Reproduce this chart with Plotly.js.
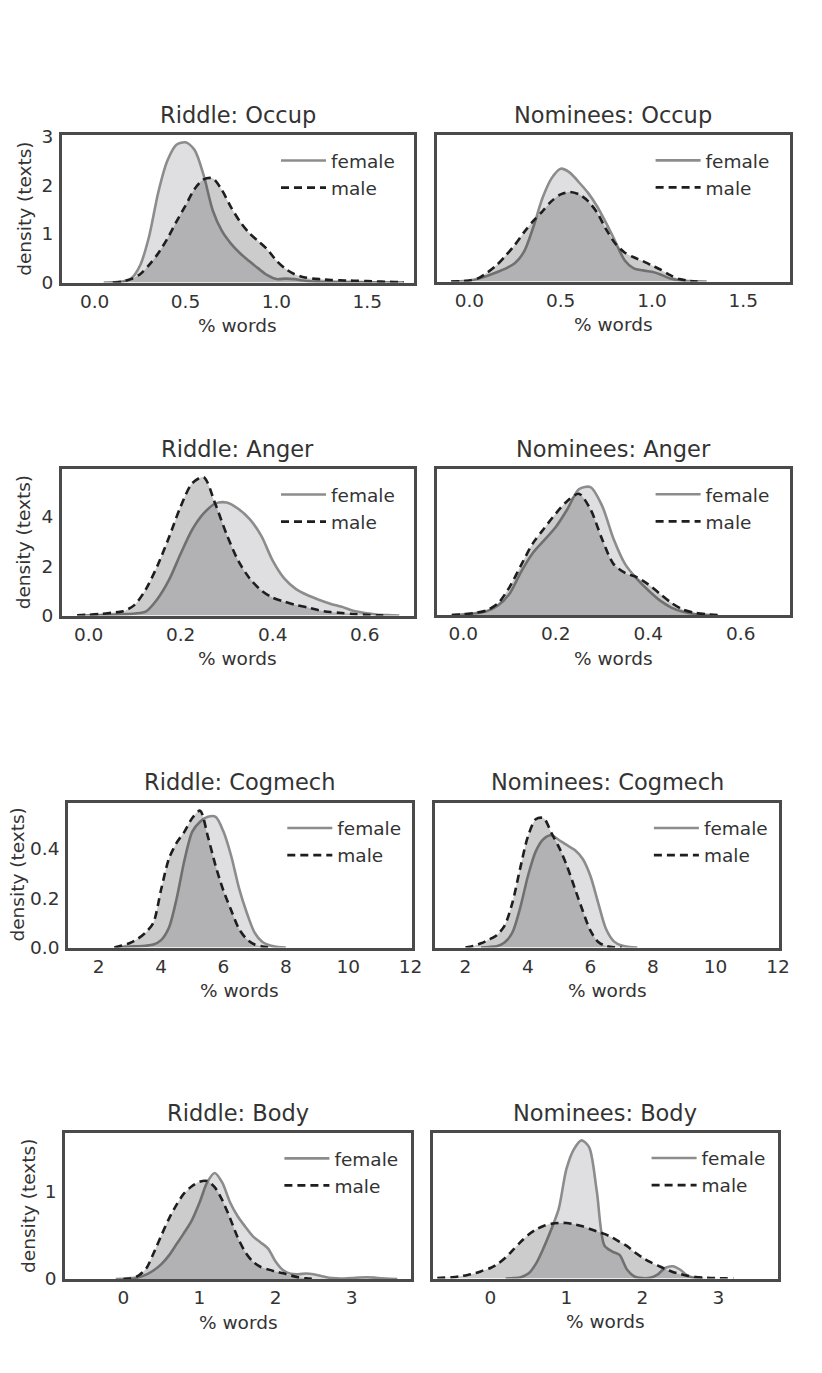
<!DOCTYPE html>
<html>
<head>
<meta charset="utf-8">
<script src="https://cdn.plot.ly/plotly-3.0.1.min.js"></script>
<style>html,body{margin:0;padding:0;background:#fff;}</style>
</head>
<body>
<div id="chart" style="width:822px;height:1373px;"></div>
<script>
// ---------------- DATA ----------------
const panelTitles = ["Riddle: Occup", "Nominees: Occup", "Riddle: Anger", "Nominees: Anger",
                     "Riddle: Cogmech", "Nominees: Cogmech", "Riddle: Body", "Nominees: Body"];
const seriesNames = ["female", "male"];
const xAxisLabel = "% words";
const yAxisLabel = "density (texts)";

// Riddle: Occup
const riddleOccupFemaleX = [0.05,0.1,0.15,0.2,0.25,0.3,0.35,0.4,0.45,0.5,0.55,0.6,0.65,0.7,0.75,0.8,0.85,0.9,0.95,1.0,1.05,1.1,1.15,1.2,1.3,1.4,1.5,1.6,1.7];
const riddleOccupFemaleY = [0,0.005,0.02,0.08,0.35,0.95,1.85,2.5,2.83,2.88,2.72,2.2,1.48,1.06,0.8,0.6,0.44,0.29,0.15,0.07,0.08,0.07,0.04,0.02,0.01,0.008,0.006,0.004,0.002];
const riddleOccupMaleX = [0.1,0.15,0.2,0.25,0.3,0.35,0.4,0.45,0.5,0.55,0.6,0.65,0.7,0.75,0.8,0.85,0.9,0.95,1.0,1.05,1.1,1.15,1.2,1.25,1.3,1.35,1.4,1.45,1.5,1.55,1.6,1.65,1.7];
const riddleOccupMaleY = [0,0.02,0.07,0.17,0.36,0.6,0.9,1.25,1.58,1.92,2.12,2.14,1.9,1.55,1.25,1.02,0.85,0.68,0.45,0.28,0.17,0.11,0.08,0.065,0.05,0.045,0.04,0.035,0.03,0.022,0.015,0.01,0.005];

// Nominees: Occup
const nomOccupFemaleX = [-0.1,-0.05,0,0.05,0.1,0.15,0.2,0.25,0.3,0.35,0.4,0.45,0.5,0.55,0.6,0.65,0.7,0.75,0.8,0.85,0.9,0.95,1.0,1.05,1.1,1.15,1.2,1.25,1.3];
const nomOccupFemaleY = [0,0.005,0.02,0.06,0.12,0.19,0.27,0.38,0.62,1.12,1.72,2.13,2.33,2.25,2.05,1.83,1.55,1.2,0.82,0.44,0.27,0.23,0.2,0.14,0.06,0.025,0.01,0.003,0];
const nomOccupMaleX = [-0.1,-0.05,0,0.05,0.1,0.15,0.2,0.25,0.3,0.35,0.4,0.45,0.5,0.55,0.6,0.65,0.7,0.75,0.8,0.85,0.9,0.95,1.0,1.05,1.1,1.15,1.2,1.25];
const nomOccupMaleY = [0,0.005,0.02,0.07,0.19,0.34,0.54,0.76,1.02,1.25,1.45,1.66,1.8,1.85,1.8,1.66,1.42,1.07,0.78,0.6,0.5,0.42,0.33,0.24,0.13,0.05,0.015,0];

// Riddle: Anger
const riddleAngerFemaleX = [-0.025,0,0.025,0.05,0.075,0.1,0.125,0.15,0.175,0.2,0.225,0.25,0.275,0.3,0.325,0.35,0.375,0.4,0.425,0.45,0.475,0.5,0.525,0.55,0.575,0.6,0.625,0.65,0.675];
const riddleAngerFemaleY = [0,0.01,0.02,0.03,0.05,0.08,0.17,0.68,1.45,2.5,3.47,4.13,4.53,4.57,4.32,3.9,3.23,2.22,1.5,1.08,0.83,0.64,0.48,0.35,0.19,0.1,0.04,0.015,0];
const riddleAngerMaleX = [-0.025,0,0.025,0.05,0.075,0.1,0.125,0.15,0.175,0.2,0.225,0.25,0.275,0.3,0.325,0.35,0.375,0.4,0.425,0.45,0.475,0.5,0.525,0.55,0.575,0.6,0.625,0.65];
const riddleAngerMaleY = [0.01,0.03,0.06,0.11,0.17,0.43,1.08,2.03,3.18,4.41,5.35,5.6,4.53,3.28,2.22,1.5,1.02,0.72,0.56,0.43,0.33,0.21,0.14,0.1,0.06,0.03,0.01,0];

// Nominees: Anger
const nomAngerFemaleX = [-0.025,0,0.025,0.05,0.075,0.1,0.125,0.15,0.175,0.2,0.225,0.25,0.275,0.3,0.325,0.35,0.375,0.4,0.425,0.45,0.475,0.5,0.525,0.55];
const nomAngerFemaleY = [0.01,0.04,0.08,0.16,0.39,0.87,1.76,2.51,3.04,3.57,4.29,5.1,5.19,4.44,3.09,2.07,1.48,1.01,0.6,0.31,0.14,0.05,0.02,0];
const nomAngerMaleX = [-0.025,0,0.025,0.05,0.075,0.1,0.125,0.15,0.175,0.2,0.225,0.25,0.275,0.3,0.325,0.35,0.375,0.4,0.425,0.45,0.475,0.5,0.525,0.55];
const nomAngerMaleY = [0.01,0.03,0.09,0.19,0.48,1.14,2.03,2.9,3.52,4.12,4.63,4.92,4.29,3.09,2.07,1.71,1.54,1.25,0.87,0.5,0.23,0.1,0.04,0.01];

// Riddle: Cogmech
const riddleCogFemaleX = [2.5,2.75,3.0,3.25,3.5,3.75,4.0,4.25,4.5,4.75,5.0,5.25,5.5,5.75,6.0,6.25,6.5,6.75,7.0,7.25,7.5,7.75,8.0];
const riddleCogFemaleY = [0,0.002,0.004,0.005,0.007,0.012,0.03,0.08,0.2,0.355,0.47,0.51,0.53,0.53,0.47,0.37,0.24,0.14,0.06,0.022,0.008,0.002,0];
const riddleCogMaleX = [2.5,2.75,3.0,3.25,3.5,3.75,4.0,4.25,4.5,4.75,5.0,5.25,5.5,5.75,6.0,6.25,6.5,6.75,7.0,7.25,7.5];
const riddleCogMaleY = [0,0.008,0.018,0.035,0.06,0.1,0.235,0.36,0.425,0.47,0.525,0.555,0.45,0.33,0.23,0.15,0.075,0.033,0.012,0.004,0];

// Nominees: Cogmech
const nomCogFemaleX = [2.5,2.75,3.0,3.25,3.5,3.75,4.0,4.25,4.5,4.75,5.0,5.25,5.5,5.75,6.0,6.25,6.5,6.75,7.0,7.25,7.5];
const nomCogFemaleY = [0,0.002,0.005,0.02,0.06,0.16,0.29,0.39,0.44,0.455,0.435,0.415,0.395,0.36,0.29,0.18,0.075,0.025,0.008,0.002,0];
const nomCogMaleX = [2.0,2.25,2.5,2.75,3.0,3.25,3.5,3.75,4.0,4.25,4.5,4.75,5.0,5.25,5.5,5.75,6.0,6.25,6.5,6.75,7.0];
const nomCogMaleY = [0,0.006,0.017,0.032,0.05,0.088,0.18,0.32,0.45,0.52,0.525,0.465,0.405,0.33,0.24,0.15,0.068,0.022,0.006,0.001,0];

// Riddle: Body
const riddleBodyFemaleX = [-0.1,0,0.1,0.2,0.3,0.4,0.5,0.6,0.7,0.8,0.9,1.0,1.1,1.2,1.3,1.4,1.5,1.6,1.7,1.8,1.9,2.0,2.1,2.2,2.3,2.4,2.5,2.6,2.7,2.8,2.9,3.0,3.1,3.2,3.3,3.4,3.5,3.6];
const riddleBodyFemaleY = [0,0.003,0.01,0.02,0.05,0.1,0.17,0.27,0.4,0.53,0.67,0.87,1.1,1.21,1.1,0.88,0.72,0.6,0.49,0.42,0.35,0.2,0.1,0.06,0.055,0.063,0.055,0.035,0.015,0.008,0.006,0.01,0.017,0.02,0.016,0.008,0.003,0];
const riddleBodyMaleX = [0,0.1,0.2,0.3,0.4,0.5,0.6,0.7,0.8,0.9,1.0,1.1,1.2,1.3,1.4,1.5,1.6,1.7,1.8,1.9,2.0,2.1,2.2,2.3,2.4,2.5];
const riddleBodyMaleY = [0,0.005,0.04,0.12,0.3,0.5,0.69,0.85,0.98,1.06,1.11,1.12,1.05,0.9,0.7,0.48,0.31,0.2,0.14,0.11,0.085,0.065,0.04,0.02,0.007,0];

// Nominees: Body
const nomBodyFemaleX = [0.2,0.3,0.4,0.5,0.6,0.7,0.8,0.9,1.0,1.1,1.2,1.3,1.4,1.5,1.6,1.7,1.8,1.9,2.0,2.1,2.2,2.3,2.4,2.5,2.6,2.7,2.8];
const nomBodyFemaleY = [0,0.005,0.015,0.056,0.17,0.35,0.56,0.8,1.25,1.48,1.58,1.5,1.0,0.38,0.31,0.27,0.1,0.02,0.005,0.008,0.045,0.12,0.14,0.1,0.03,0.005,0];
const nomBodyMaleX = [-0.7,-0.6,-0.5,-0.4,-0.3,-0.2,-0.1,0,0.1,0.2,0.3,0.4,0.5,0.6,0.7,0.8,0.9,1.0,1.1,1.2,1.3,1.4,1.5,1.6,1.7,1.8,1.9,2.0,2.1,2.2,2.3,2.4,2.5,2.6,2.7,2.8,2.9,3.0,3.1,3.2];
const nomBodyMaleY = [0.005,0.01,0.015,0.025,0.04,0.06,0.09,0.12,0.17,0.24,0.33,0.42,0.5,0.56,0.6,0.625,0.635,0.635,0.62,0.6,0.57,0.54,0.51,0.47,0.42,0.37,0.3,0.24,0.19,0.15,0.11,0.075,0.05,0.03,0.018,0.01,0.006,0.003,0.001,0];

const panelSeries = [
  [[riddleOccupFemaleX, riddleOccupFemaleY], [riddleOccupMaleX, riddleOccupMaleY]],
  [[nomOccupFemaleX, nomOccupFemaleY], [nomOccupMaleX, nomOccupMaleY]],
  [[riddleAngerFemaleX, riddleAngerFemaleY], [riddleAngerMaleX, riddleAngerMaleY]],
  [[nomAngerFemaleX, nomAngerFemaleY], [nomAngerMaleX, nomAngerMaleY]],
  [[riddleCogFemaleX, riddleCogFemaleY], [riddleCogMaleX, riddleCogMaleY]],
  [[nomCogFemaleX, nomCogFemaleY], [nomCogMaleX, nomCogMaleY]],
  [[riddleBodyFemaleX, riddleBodyFemaleY], [riddleBodyMaleX, riddleBodyMaleY]],
  [[nomBodyFemaleX, nomBodyFemaleY], [nomBodyMaleX, nomBodyMaleY]]
];

// ---------------- LAYOUT / STYLE ----------------
const W = 822, H = 1373;
const FONT = "DejaVu Sans";
const TXT = "#333333";
const FRAME = "#4a4a4a";
const LW = 3;
// plot frames in pixels (line centres): [left, right, top, bottom]
const boxes = [
  [60.4, 415.5, 133.5, 284], [435, 791.7, 133.3, 283],
  [60.4, 415.5, 467.5, 617], [435, 791.7, 467.3, 616.7],
  [66.7, 413.3, 801, 949],   [433.3, 780.7, 801, 949],
  [63.8, 412.5, 1131.3, 1280.5], [431, 779, 1131, 1280]
];
const xRanges = [[-0.18,1.757],[-0.18,1.757],[-0.058,0.707],[-0.058,0.707],[1.02,12.04],[1.02,12.04],[-0.763,3.78],[-0.763,3.78]];
const yRanges = [[0,3.03],[0,3.03],[0,5.93],[0,5.93],[0,0.588],[0,0.588],[0,1.67],[0,1.67]];
const xDtick = [0.5,0.5,0.2,0.2,2,2,1,1];
const xFmt = ['.1f','.1f','.1f','.1f','d','d','d','d'];
const yDtick = [1,1,2,2,0.2,0.2,1,1];
const yFmt = ['d','d','d','d','.1f','.1f','d','d'];
const yTitleX = [25, null, 23, null, 16.5, null, 29, null];

const femaleLine = "#8c8c8c", maleLine = "#1e1e1e";
const femaleFill = "rgba(128,128,134,0.25)", maleFill = "rgba(0,0,0,0.2)";

const layout = {
  width: W, height: H,
  margin: {l:0, r:0, t:0, b:0},
  paper_bgcolor: "#ffffff", plot_bgcolor: "rgba(0,0,0,0)",
  font: {family: FONT, color: TXT, size: 18.5},
  showlegend: true,
  annotations: []
};
const traces = [];

boxes.forEach((b, i) => {
  const n = i === 0 ? '' : String(i + 1);
  const half = LW / 2;
  const xd = [(b[0] + half) / W, (b[1] - half) / W];
  const yd = [1 - (b[3] - half) / H, 1 - (b[2] + half) / H];
  const left = (i % 2) === 0;
  layout['xaxis' + n] = {
    domain: xd, anchor: 'y' + n, range: xRanges[i],
    showline: true, mirror: true, linecolor: FRAME, linewidth: LW,
    showgrid: false, zeroline: false, ticks: '',
    tick0: 0, dtick: xDtick[i], tickformat: xFmt[i],
    tickfont: {family: FONT, size: 18.5, color: TXT}, fixedrange: true
  };
  layout['yaxis' + n] = {
    domain: yd, anchor: 'x' + n, range: yRanges[i],
    showline: true, mirror: true, linecolor: FRAME, linewidth: LW,
    showgrid: false, zeroline: false,
    ticks: 'outside', ticklen: 2, tickcolor: 'rgba(0,0,0,0)',
    tick0: 0, dtick: yDtick[i], tickformat: yFmt[i],
    showticklabels: left,
    tickfont: {family: FONT, size: 18.5, color: TXT}, fixedrange: true
  };
  layout['legend' + n] = {
    x: (b[0] + 215.6) / W, y: 1 - (b[2] + 8.5) / H, xanchor: 'left', yanchor: 'top',
    bgcolor: 'rgba(0,0,0,0)', borderwidth: 0, itemwidth: 45,
    font: {family: FONT, size: 18.5, color: TXT}
  };
  // subplot title
  layout.annotations.push({
    text: panelTitles[i], xref: 'paper', yref: 'paper',
    x: (b[0] + b[1]) / 2 / W, y: 1 - (b[2] - 18.5) / H,
    xanchor: 'center', yanchor: 'middle', showarrow: false,
    font: {family: FONT, size: 22.5, color: TXT}
  });
  // x axis title
  layout.annotations.push({
    text: xAxisLabel, xref: 'paper', yref: 'paper',
    x: (b[0] + b[1]) / 2 / W, y: 1 - (b[3] + 41.5) / H,
    xanchor: 'center', yanchor: 'middle', showarrow: false,
    font: {family: FONT, size: 18.5, color: TXT}
  });
  if (left) {
    layout.annotations.push({
      text: yAxisLabel, xref: 'paper', yref: 'paper',
      x: yTitleX[i] / W, y: 1 - (b[2] + b[3]) / 2 / H, textangle: -90,
      xanchor: 'center', yanchor: 'middle', showarrow: false,
      font: {family: FONT, size: 18.5, color: TXT}
    });
  }
  const [fem, mal] = panelSeries[i];
  const common = {xaxis: 'x' + n, yaxis: 'y' + n, mode: 'lines', hoverinfo: 'skip', legend: 'legend' + n};
  traces.push(Object.assign({}, common, {x: fem[0], y: fem[1], fill: 'tozeroy', fillcolor: femaleFill,
    line: {width: 0, shape: 'spline', smoothing: 0.8, color: 'rgba(0,0,0,0)'}, showlegend: false}));
  traces.push(Object.assign({}, common, {x: fem[0], y: fem[1], name: seriesNames[0],
    line: {width: 2.6, color: femaleLine, shape: 'spline', smoothing: 0.8}, showlegend: true}));
  traces.push(Object.assign({}, common, {x: mal[0], y: mal[1], fill: 'tozeroy', fillcolor: maleFill,
    line: {width: 0, shape: 'spline', smoothing: 0.8, color: 'rgba(0,0,0,0)'}, showlegend: false}));
  traces.push(Object.assign({}, common, {x: mal[0], y: mal[1], name: seriesNames[1],
    line: {width: 2.6, color: maleLine, shape: 'spline', smoothing: 0.8, dash: '8px,5px'}, showlegend: true}));
});

Plotly.newPlot('chart', traces, layout, {displayModeBar: false, staticPlot: true});
</script>
</body>
</html>
